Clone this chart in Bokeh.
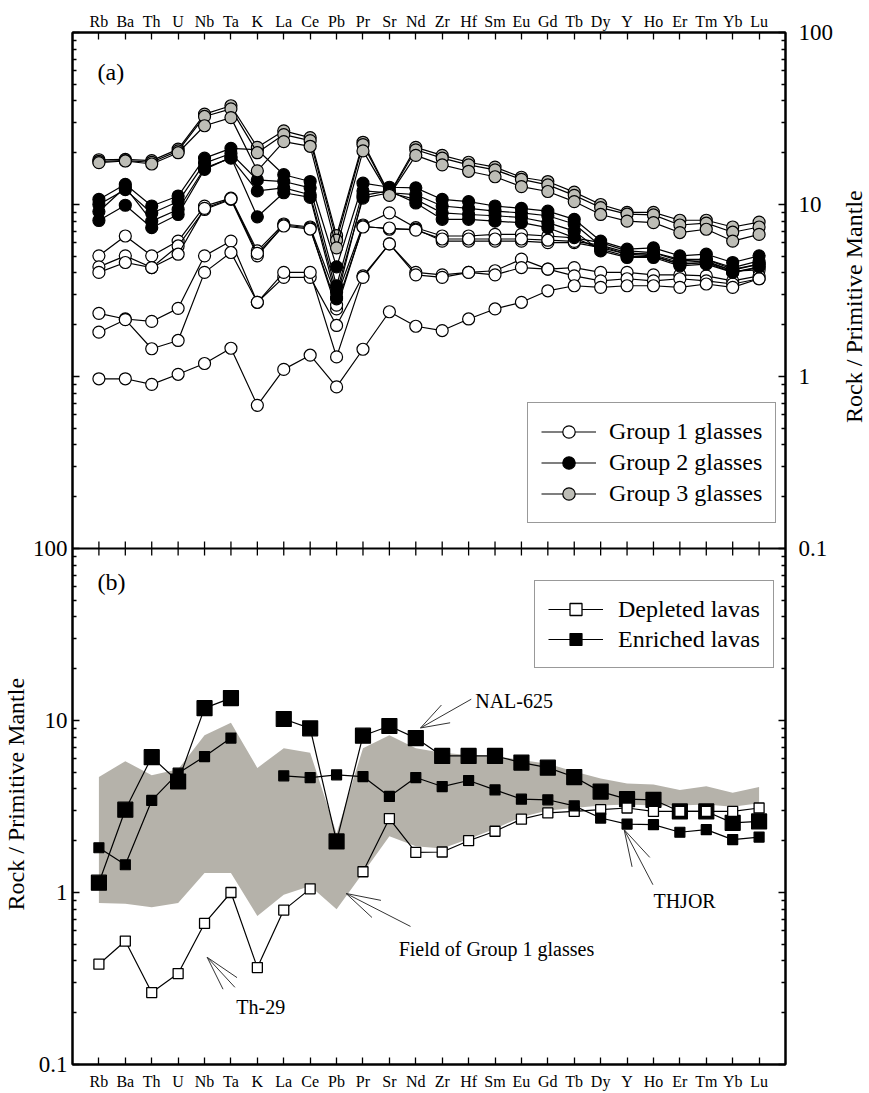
import numpy as np
from bokeh.plotting import figure
from bokeh.models import (Range1d, FixedTicker, CustomJSTickFormatter, LinearAxis, LogAxis,
                          LogScale, Legend, LegendItem, Label, ColumnDataSource, Span)
from bokeh.layouts import row
from bokeh.embed import file_html
from bokeh.resources import INLINE

NaN = float("nan")

elements = ["Rb", "Ba", "Th", "U", "Nb", "Ta", "K", "La", "Ce", "Pb", "Pr", "Sr", "Nd",
            "Zr", "Hf", "Sm", "Eu", "Gd", "Tb", "Dy", "Y", "Ho", "Er", "Tm", "Yb", "Lu"]

# ---- panel (a): glasses ----
group1_a = [5.03, 6.56, 5.03, 6.13, 9.78, 10.9, 5.37, 7.7, 7.4, 2.9, 7.6, 8.94, 7.33, 6.56, 6.56, 6.7, 6.7, 6.56, 6.4, 6.0, 5.37, 5.26, 4.8, 4.8, 4.2, 4.5]
group1_b = [4.34, 5.03, 4.3, 5.74, 9.35, 10.7, 5.03, 7.6, 7.3, 2.47, 7.5, 7.18, 7.2, 6.13, 6.13, 6.13, 6.13, 6.0, 6.0, 5.62, 5.14, 5.03, 4.5, 4.6, 4.03, 4.3]
group1_c = [4.03, 4.6, 4.3, 5.14, 9.5, 10.8, 5.2, 7.5, 7.2, 2.6, 7.4, 7.3, 7.1, 6.3, 6.3, 6.3, 6.3, 6.2, 6.1, 5.8, 5.25, 5.1, 4.6, 4.7, 4.1, 4.16]
group1_d = [2.33, 2.16, 2.09, 2.49, 5.03, 6.13, 2.7, 3.77, 3.77, 1.98, 3.85, 5.9, 4.03, 3.9, 4.03, 4.12, 4.81, 4.21, 4.3, 4.03, 4.03, 3.9, 3.9, 3.85, 3.6, 3.85]
group1_e = [1.81, 2.14, 1.45, 1.62, 4.03, 5.26, 2.7, 4.03, 4.03, 1.30, 3.77, 5.9, 3.9, 3.77, 4.03, 3.9, 4.3, 4.21, 3.85, 3.6, 3.7, 3.6, 3.7, 3.6, 3.45, 3.7]
group1_f = [0.97, 0.97, 0.9, 1.03, 1.19, 1.46, 0.68, 1.1, 1.33, 0.87, 1.44, 2.38, 1.96, 1.85, 2.16, 2.47, 2.7, 3.15, 3.37, 3.3, 3.37, 3.37, 3.3, 3.45, 3.3, 3.7]

group2_a = [10.7, 13.1, 9.8, 11.2, 18.6, 21.2, 20.8, 14.9, 13.6, 4.34, 13.3, 12.6, 12.5, 10.7, 10.4, 9.8, 9.5, 9.15, 8.2, 6.13, 5.5, 5.6, 5.03, 5.14, 4.6, 5.03]
group2_b = [10.0, 12.2, 8.9, 10.4, 17.4, 19.8, 13.9, 13.6, 12.5, 3.37, 12.0, 11.7, 11.4, 9.8, 9.5, 9.15, 8.94, 8.6, 7.7, 5.74, 5.14, 5.25, 4.7, 4.8, 4.3, 4.7]
group2_c = [9.1, 12.6, 8.0, 9.35, 16.3, 18.6, 12.0, 12.5, 11.4, 3.09, 10.9, 11.7, 10.7, 8.94, 8.75, 8.6, 8.4, 7.84, 7.0, 5.37, 4.92, 4.92, 4.4, 4.5, 4.03, 4.34]
group2_d = [8.07, 9.9, 7.33, 8.75, 16.0, 18.8, 8.48, 11.7, 11.0, 2.83, 11.3, 12.0, 10.2, 8.2, 8.2, 8.0, 7.84, 7.33, 6.42, 5.5, 5.0, 5.0, 4.5, 4.6, 4.15, 4.5]

group3_a = [18.2, 18.3, 18.0, 21.0, 33.5, 37.5, 21.5, 26.8, 24.5, 6.6, 23.0, 11.5, 21.5, 19.3, 17.6, 16.5, 14.4, 13.6, 11.8, 10.0, 9.0, 9.0, 8.1, 8.1, 7.4, 7.9]
group3_b = [17.8, 18.0, 17.6, 20.5, 32.5, 36.0, 20.0, 25.5, 23.5, 6.2, 22.3, 11.4, 20.8, 18.6, 17.0, 15.9, 14.0, 13.0, 11.3, 9.6, 8.8, 8.7, 7.6, 7.8, 6.9, 7.4]
group3_c = [17.5, 17.9, 17.2, 20.0, 28.7, 32.0, 15.7, 23.2, 21.8, 5.6, 20.5, 11.3, 19.3, 17.0, 15.6, 14.5, 12.7, 11.9, 10.4, 8.75, 8.0, 7.84, 6.87, 7.18, 6.13, 6.7]

# ---- panel (b): lavas ----
depleted_th29 = [0.383, 0.522, 0.262, 0.338, 0.661, 1.0, 0.366, 0.79, 1.05, NaN, 1.32, 2.69, 1.71, 1.72, 2.0, 2.27, 2.67, 2.9, 2.96, 3.03, 3.1, 2.96, 2.96, 2.96, 2.96, 3.1]
enriched_nal625 = [1.14, 3.03, 6.12, 4.42, 11.8, 13.5, NaN, 10.2, 9.0, 1.98, 8.16, 9.29, 7.9, 6.22, 6.22, 6.22, 5.69, 5.32, 4.69, 3.86, 3.49, 3.46, 2.96, 2.96, 2.54, 2.59]
enriched_thjor = [1.82, 1.45, 3.43, 4.94, 6.17, 7.9, NaN, 4.77, 4.66, 4.83, 4.72, 3.62, 4.66, 4.13, 4.48, 3.95, 3.49, 3.46, 3.19, 2.71, 2.5, 2.48, 2.24, 2.32, 2.03, 2.1]

field_upper = [4.7, 5.8, 4.8, 5.2, 8.2, 9.7, 5.3, 6.9, 6.5, 2.2, 6.9, 8.2, 6.9, 6.5, 6.3, 6.2, 5.9, 5.6, 5.05, 4.6, 4.3, 4.25, 3.95, 4.15, 3.8, 4.1]
field_lower = [0.87, 0.86, 0.82, 0.87, 1.3, 1.3, 0.73, 0.97, 1.09, 0.8, 1.3, 2.12, 1.86, 1.8, 2.05, 2.35, 2.75, 3.0, 3.1, 3.2, 3.25, 3.2, 3.2, 3.25, 3.15, 3.3]

panel_min, panel_max = 0.1, 100.0
y_title = "Rock / Primitive Mantle"

# ---------------- layout constants ----------------
FONT = "Liberation Serif"
H = 1092
TOP_B, BOT_B = 32, 28
FRAME_H = H - TOP_B - BOT_B          # two stacked panels
HALF = FRAME_H / 2
STRIP_L, STRIP_R = 29, 32
MAIN_W = 868 - STRIP_L - STRIP_R
BORDER_L, BORDER_R = 43, 48

xs = np.arange(len(elements), dtype=float)
# one stacked frame: top panel on the default range, bottom panel on "bot"
span = panel_max / panel_min
top_range = Range1d(panel_min / span, panel_max)
bot_range = Range1d(panel_min, panel_max * span)


def decade_ticks(lo, hi):
    majors, minors = [], []
    e = int(round(np.log10(lo)))
    while 10.0 ** e <= hi * 1.0001:
        majors.append(float(f"{10.0 ** e:.10g}"))
        if 10.0 ** (e + 1) <= hi * 1.0001:
            minors += [float(f"{m * 10.0 ** e:.10g}") for m in range(2, 10)]
        e += 1
    return majors, minors


def style_common(ax):
    ax.axis_line_width = 2
    ax.axis_line_color = "black"
    ax.major_tick_in = 7
    ax.major_tick_out = 0
    ax.minor_tick_in = 4
    ax.minor_tick_out = 0
    ax.major_tick_line_width = 1.3
    ax.minor_tick_line_width = 1.3
    ax.major_tick_line_color = "black"
    ax.minor_tick_line_color = "black"
    ax.major_label_text_font = FONT
    ax.major_label_text_color = "black"
    ax.axis_label = None


def style_x(ax, standoff):
    style_common(ax)
    ax.ticker = FixedTicker(ticks=list(range(len(elements))), minor_ticks=[])
    ax.formatter = CustomJSTickFormatter(args=dict(names=elements),
                                         code="return names[Math.round(tick)] || '';")
    ax.major_label_text_font_size = "16px"
    ax.major_label_standoff = standoff


def style_y(ax, rng, standoff):
    style_common(ax)
    majors, minors = decade_ticks(rng.start, rng.end)
    ax.ticker = FixedTicker(ticks=majors, minor_ticks=minors)
    ax.formatter = CustomJSTickFormatter(
        args=dict(lo=panel_min * 0.999, hi=panel_max * 1.001),
        code="if (tick < lo || tick > hi) return ''; return tick >= 1 ? tick.toFixed(0) : tick.toFixed(1);")
    ax.major_label_text_font_size = "23px"
    ax.major_label_standoff = standoff


p = figure(width=MAIN_W, height=H, x_range=Range1d(-1, 26), y_range=top_range,
           y_axis_type="log", x_axis_location="above", y_axis_location="right",
           output_backend="svg", toolbar_location=None,
           min_border_left=BORDER_L, min_border_right=BORDER_R,
           min_border_top=TOP_B, min_border_bottom=BOT_B)
p.extra_y_ranges = {"bot": bot_range}
p.extra_y_scales = {"bot": LogScale()}
p.xgrid.visible = False
p.ygrid.visible = False
p.outline_line_color = "black"
p.outline_line_width = 2
p.background_fill_color = "white"
p.border_fill_color = "white"

style_x(p.xaxis[0], 3)
style_y(p.yaxis[0], top_range, 13)
ax_below = LinearAxis()
style_x(ax_below, 8)
p.add_layout(ax_below, "below")
ax_left = LogAxis(y_range_name="bot")
style_y(ax_left, bot_range, 5)
p.add_layout(ax_left, "left")

# separator between panels with ticks crossing it
p.add_layout(Span(location=panel_min, dimension="width", line_color="black", line_width=2))
p.scatter(xs, np.full(len(xs), panel_min), marker="dash", angle=np.pi / 2, size=14,
          line_color="black", line_width=1.3)

# ================= panel (a) =================
groups = [
    ("Group 1 glasses", "white", [group1_a, group1_b, group1_c, group1_d, group1_e, group1_f]),
    ("Group 2 glasses", "black", [group2_a, group2_b, group2_c, group2_d]),
    ("Group 3 glasses", "#bdbdb6", [group3_a, group3_b, group3_c]),
]
items_a = []
for name, fill, series in groups:
    first = None
    for s in series:
        src = ColumnDataSource(dict(x=xs, y=np.array(s, dtype=float)))
        lr = p.line("x", "y", source=src, line_color="black", line_width=1.2)
        sr = p.scatter("x", "y", source=src, marker="circle", size=12,
                       fill_color=fill, line_color="black", line_width=1.2)
        if first is None:
            first = [lr, sr]
    items_a.append(LegendItem(label=name, renderers=first))

leg_a = Legend(items=items_a, location=(455, 541), margin=0, padding=13, spacing=0,
               glyph_width=55, glyph_height=31, label_height=31, label_standoff=13,
               label_text_font=FONT, label_text_font_size="24px", label_text_color="black",
               border_line_color="#333333", border_line_width=1.2,
               background_fill_color="white", background_fill_alpha=1.0)
p.add_layout(leg_a)

p.add_layout(Label(x=-1, y=panel_max, x_offset=25, y_offset=-39, text="(a)",
                   text_font=FONT, text_font_size="24px", text_baseline="middle",
                   text_align="left", text_color="black"))

# ================= panel (b) =================
field_x = np.concatenate([xs, xs[::-1]])
field_y = np.concatenate([np.array(field_upper), np.array(field_lower)[::-1]])
p.patch(field_x, field_y, fill_color="#b5b2aa", line_color=None, y_range_name="bot")

src_nal = ColumnDataSource(dict(x=xs, y=np.array(enriched_nal625, dtype=float)))
p.line("x", "y", source=src_nal, line_color="black", line_width=1.2, y_range_name="bot")
p.scatter("x", "y", source=src_nal, marker="square", size=15, fill_color="black",
          line_color="black", line_width=1.2, y_range_name="bot")

src_dep = ColumnDataSource(dict(x=xs, y=np.array(depleted_th29, dtype=float)))
l_dep = p.line("x", "y", source=src_dep, line_color="black", line_width=1.2, y_range_name="bot")
s_dep = p.scatter("x", "y", source=src_dep, marker="square", size=10, fill_color="white",
                  line_color="black", line_width=1.3, y_range_name="bot")

src_thj = ColumnDataSource(dict(x=xs, y=np.array(enriched_thjor, dtype=float)))
l_thj = p.line("x", "y", source=src_thj, line_color="black", line_width=1.2, y_range_name="bot")
s_thj = p.scatter("x", "y", source=src_thj, marker="square", size=10, fill_color="black",
                  line_color="black", line_width=1.2, y_range_name="bot")

leg_b = Legend(items=[LegendItem(label="Depleted lavas", renderers=[l_dep, s_dep]),
                      LegendItem(label="Enriched lavas", renderers=[l_thj, s_thj])],
               location=(462, 396), margin=0, padding=13, spacing=0,
               glyph_width=55, glyph_height=30, label_height=30, label_standoff=15,
               label_text_font=FONT, label_text_font_size="24px", label_text_color="black",
               border_line_color="#333333", border_line_width=1.2,
               background_fill_color="white", background_fill_alpha=1.0)
p.add_layout(leg_b)

# callouts: tip, fan ends, text anchor (data space of panel b)
callouts = [
    ("NAL-625", (12.18, 9.05), [(14.1, 13.3), (12.97, 12.3), (13.3, 9.7)], (14.25, 12.9), "left"),
    ("THJOR", (19.89, 2.32), [(20.98, 1.11), (20.19, 1.41), (20.86, 1.6)], (21.0, 0.887), "left"),
    ("Field of Group 1 glasses", (9.36, 0.987), [(11.8, 0.635), (10.68, 0.90), (10.34, 0.716)], (11.35, 0.467), "left"),
    ("Th-29", (4.1, 0.42), [(5.23, 0.32), (4.7, 0.274), (5.15, 0.281)], (6.13, 0.216), "center"),
]
for text, tip, ends, tpos, align in callouts:
    p.segment(x0=[tip[0]] * len(ends), y0=[tip[1]] * len(ends),
              x1=[e[0] for e in ends], y1=[e[1] for e in ends],
              line_color="#333333", line_width=1, y_range_name="bot")
    p.add_layout(Label(x=tpos[0], y=tpos[1], text=text, text_font=FONT,
                       text_font_size="20px", text_baseline="middle", y_range_name="bot",
                       text_align=align, text_color="black"))

p.add_layout(Label(x=-1, y=panel_min, x_offset=25, y_offset=-33, text="(b)",
                   text_font=FONT, text_font_size="24px", text_baseline="middle",
                   text_align="left", text_color="black"))


# ================= title strips =================
def strip(width, x_center, y_from_top):
    s = figure(width=width, height=H, x_range=Range1d(0, width), y_range=Range1d(0, H),
               x_axis_location=None, y_axis_location=None, output_backend="svg",
               toolbar_location=None, min_border_left=0, min_border_right=0,
               min_border_top=0, min_border_bottom=0)
    s.outline_line_color = None
    s.background_fill_color = "white"
    s.border_fill_color = "white"
    s.xgrid.visible = False
    s.ygrid.visible = False
    s.add_layout(Label(x=x_center, y=H - y_from_top, text=y_title, angle=np.pi / 2,
                       text_font=FONT, text_font_size="24px", text_baseline="middle",
                       text_align="center", text_color="black"))
    return s


left_strip = strip(STRIP_L, 15, TOP_B + 1.5 * HALF)
right_strip = strip(STRIP_R, 17, TOP_B + 0.5 * HALF)

layout = row(left_strip, p, right_strip, spacing=0)
open("out.html", "w").write(file_html(layout, INLINE))
